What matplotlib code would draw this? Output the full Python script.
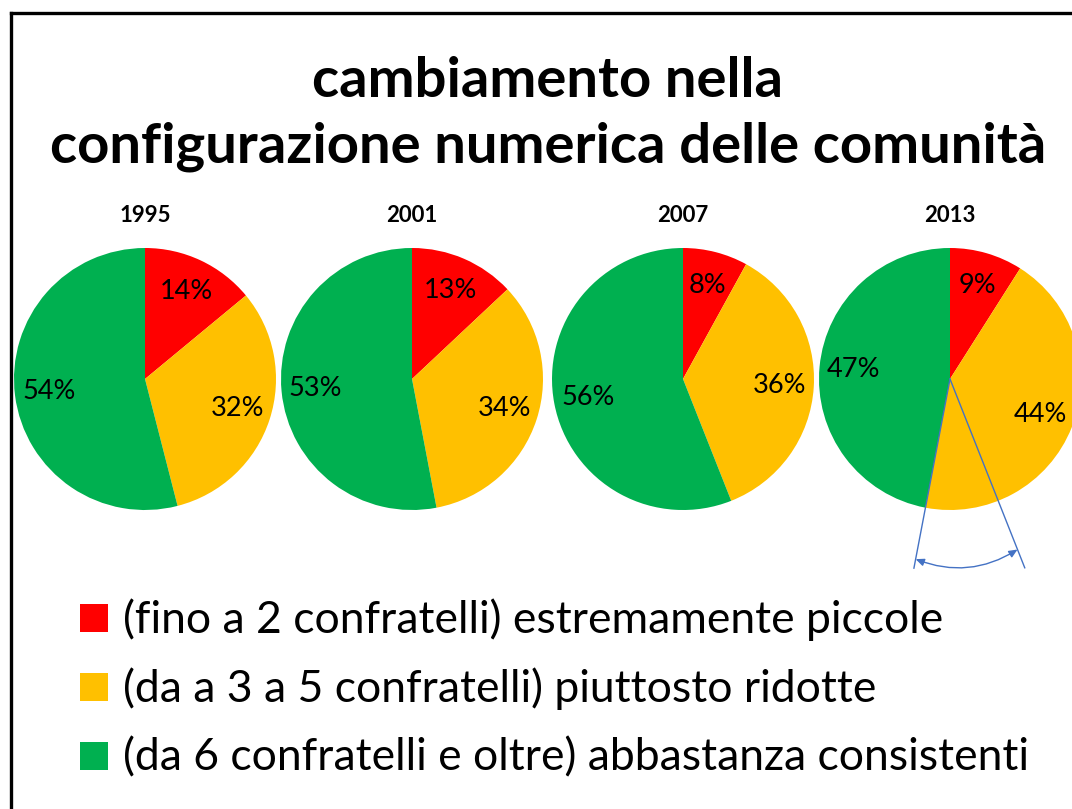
import numpy as np
import matplotlib
matplotlib.use('Agg')
import matplotlib.pyplot as plt
from matplotlib.patches import Rectangle
from matplotlib.lines import Line2D

plt.rcParams['font.family'] = ['Lato', 'DejaVu Sans']

# data
years = ['1995', '2001', '2007', '2013']
piccole = [14, 13, 8, 9]
ridotte = [32, 34, 36, 44]
consistenti = [54, 53, 56, 47]
categorie = ['(fino a 2 confratelli) estremamente piccole',
             '(da a 3 a 5 confratelli) piuttosto ridotte',
             '(da 6 confratelli e oltre) abbastanza consistenti']
colori = ['#FF0000', '#FFC000', '#00B050']
titolo = ['cambiamento nella', 'configurazione numerica delle comunità']

W, H = 1072, 809
fig = plt.figure(figsize=(W / 100, H / 100), dpi=100)
fig.patch.set_facecolor('white')

def fx(px):
    return px / W

def fy(py):
    return 1 - py / H

# slide border (left + top)
fig.add_artist(Line2D([fx(11), fx(11)], [fy(13), 0], color='black', lw=2.4))
fig.add_artist(Line2D([fx(11), 1], [fy(13), fy(13)], color='black', lw=2.4))

# title
fig.text(fx(548), fy(97), titolo[0], ha='center', va='baseline',
         fontsize=40.5, fontweight='bold')
fig.text(fx(548), fy(163), titolo[1], ha='center', va='baseline',
         fontsize=40.5, fontweight='bold')

# pies
r = 131
centri = [145, 412, 683, 950]
cy = 379
y_anno = 1 + (cy - r - 222) / r   # year baseline above the pie
assi = []
for i, yr in enumerate(years):
    ax = fig.add_axes([fx(centri[i] - r), fy(cy + r), 2 * r / W, 2 * r / H])
    vals = [piccole[i], ridotte[i], consistenti[i]]
    wedges, texts, autotexts = ax.pie(vals, colors=colori, startangle=90,
                                      counterclock=False, radius=1,
                                      autopct=lambda p: f'{p:.0f}%',
                                      pctdistance=0.74,
                                      wedgeprops=dict(linewidth=0))
    for t in autotexts:
        t.set_fontsize(19.5)
        t.set_color('black')
    ax.set_xlim(-1, 1)
    ax.set_ylim(-1, 1)
    ax.set_aspect('equal')
    ax.text(0, y_anno, yr, ha='center', va='baseline',
            fontsize=16, fontweight='bold')
    assi.append(ax)

# 2013: growth of the orange slice compared to 2007
ax = assi[3]
a_new = np.deg2rad(90 - 3.6 * (piccole[3] + ridotte[3]))
a_old = np.deg2rad(90 - 3.6 * (piccole[2] + ridotte[2]))
blu = '#4472C4'
ax.plot([0, 1.47 * np.cos(a_new)], [0, 1.47 * np.sin(a_new)], color=blu,
        lw=1.0, clip_on=False)
ax.plot([0, 1.55 * np.cos(a_old)], [0, 1.55 * np.sin(a_old)], color=blu,
        lw=1.0, clip_on=False)
ax.annotate('', xy=(1.40 * np.cos(a_old), 1.40 * np.sin(a_old)),
            xytext=(1.40 * np.cos(a_new), 1.40 * np.sin(a_new)),
            arrowprops=dict(arrowstyle='<|-|>,head_length=0.5,head_width=0.22',
                            color=blu, lw=1.0, connectionstyle='arc3,rad=0.25',
                            shrinkA=0, shrinkB=0),
            annotation_clip=False)

# legend
righe = [618, 687, 756]
for i, lab in enumerate(categorie):
    fig.add_artist(Rectangle((fx(80), fy(righe[i] + 14)), 28 / W, 28 / H,
                             facecolor=colori[i], edgecolor='none'))
    fig.text(fx(123), fy(righe[i] + 2), lab, ha='left', va='center',
             fontsize=32)

fig.savefig('out.png', dpi=100, facecolor='white')
